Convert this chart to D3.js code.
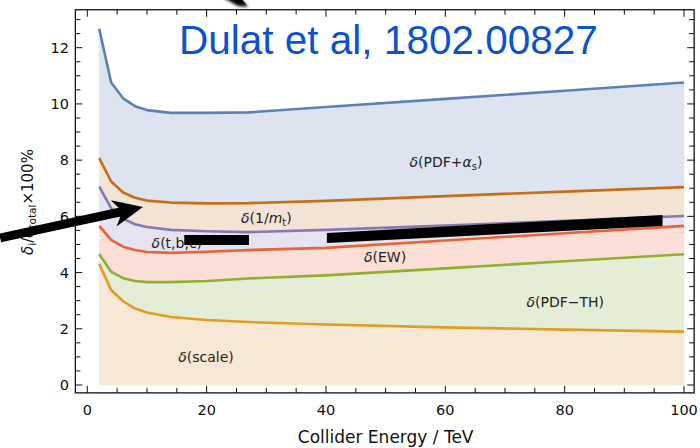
<!DOCTYPE html>
<html>
<head>
<meta charset="utf-8">
<script src="https://cdn.jsdelivr.net/npm/d3@7"></script>
<style>
  html, body { margin: 0; padding: 0; background: #fff; }
  svg { display: block; font-family: "DejaVu Sans", sans-serif; }
</style>
</head>
<body>
<svg id="chart" width="700" height="448"></svg>
<script>
// Collider energies (TeV) at which the uncertainties are evaluated
const energies = [2, 4, 6, 8, 10, 14, 20, 27, 40, 60, 80, 100];

// Cumulative uncertainty boundaries, delta_i / delta_total x 100%
const pdfAlphaS = [12.67, 10.76, 10.20, 9.92, 9.78, 9.68, 9.68, 9.70, 9.89, 10.18, 10.47, 10.76];
const invMt     = [8.07, 7.24, 6.85, 6.66, 6.56, 6.49, 6.46, 6.47, 6.55, 6.72, 6.88, 7.04];
const tbc       = [7.06, 6.29, 5.92, 5.72, 5.62, 5.52, 5.47, 5.44, 5.52, 5.67, 5.84, 6.01];
const ew        = [5.66, 5.16, 4.92, 4.80, 4.73, 4.70, 4.74, 4.80, 4.88, 5.14, 5.40, 5.66];
const pdfTh     = [4.66, 4.03, 3.80, 3.70, 3.66, 3.66, 3.70, 3.79, 3.90, 4.15, 4.40, 4.65];
const scaleUnc  = [4.31, 3.38, 2.98, 2.72, 2.58, 2.42, 2.31, 2.24, 2.15, 2.05, 1.97, 1.90];

// Axis ticks
const xMajorTicks = [0, 20, 40, 60, 80, 100];
const yMajorTicks = [0, 2, 4, 6, 8, 10, 12];

const svg = d3.select("#chart");

const x = d3.scaleLinear().domain([0, 100]).range([87.3, 684]);
const y = d3.scaleLinear().domain([0, 12]).range([385, 47.7]);

// Plot frame extent in data units
const frameX = [-2, 101.7];
const frameY = [-0.28, 13.35];
const fx0 = x(frameX[0]), fx1 = x(frameX[1]);
const fy0 = y(frameY[0]), fy1 = y(frameY[1]);

// Stacked bands: upper boundary, lower boundary, line colour, fill colour
const zeros = energies.map(() => 0);
const bands = [
  { upper: pdfAlphaS, lower: invMt,    line: "#5E81B5", fill: "#dde4ef" },
  { upper: invMt,     lower: tbc,      line: "#C56E1A", fill: "#f3e3d4" },
  { upper: tbc,       lower: ew,       line: "#8778B3", fill: "#e5e3ef" },
  { upper: ew,        lower: pdfTh,    line: "#EB6235", fill: "#fbdfd7" },
  { upper: pdfTh,     lower: scaleUnc, line: "#8FB032", fill: "#e6edd6" },
  { upper: scaleUnc,  lower: zeros,    line: "#E19C24", fill: "#f6e8d5" }
];

const area = d3.area()
  .x(d => x(d.e))
  .y0(d => y(d.lo))
  .y1(d => y(d.hi));

const line = d3.line()
  .x(d => x(d.e))
  .y(d => y(d.v));

const plot = svg.append("g");

bands.forEach(b => {
  plot.append("path")
    .datum(energies.map((e, i) => ({ e, hi: b.upper[i], lo: b.lower[i] })))
    .attr("d", area)
    .attr("fill", b.fill)
    .attr("stroke", b.fill)
    .attr("stroke-width", 0.6);
});

bands.forEach(b => {
  plot.append("path")
    .datum(energies.map((e, i) => ({ e, v: b.upper[i] })))
    .attr("d", line)
    .attr("fill", "none")
    .attr("stroke", b.line)
    .attr("stroke-width", 2.6)
    .attr("stroke-linejoin", "round");
});

// Band labels
const labelColor = "#222";
function bandLabel(cx, cy, parts) {
  const t = plot.append("text")
    .attr("x", x(cx)).attr("y", y(cy))
    .attr("text-anchor", "middle")
    .attr("font-size", 14)
    .attr("fill", labelColor);
  parts.forEach(p => {
    const s = t.append("tspan").text(p.t);
    if (p.i) s.attr("font-style", "italic");
    if (p.sub) s.attr("font-size", 10).attr("baseline-shift", "-25%");
  });
}
bandLabel(60.1, 7.76, [{t: "δ", i: 1}, {t: "(PDF+"}, {t: "α", i: 1}, {t: "s", sub: 1}, {t: ")"}]);
bandLabel(30.0, 5.77, [{t: "δ", i: 1}, {t: "(1/"}, {t: "m", i: 1}, {t: "t", sub: 1}, {t: ")"}]);
bandLabel(15.0, 4.88, [{t: "δ", i: 1}, {t: "(t,b,c)"}]);
bandLabel(49.9, 4.38, [{t: "δ", i: 1}, {t: "(EW)"}]);
bandLabel(80.1, 2.78, [{t: "δ", i: 1}, {t: "(PDF\u2212TH)"}]);
bandLabel(19.9, 0.82, [{t: "δ", i: 1}, {t: "(scale)"}]);

// Black annotation bars over the t,b,c band
const bars = [
  [[16.25, 5.34], [27.1, 5.34], [27.1, 4.98], [16.25, 4.98]],
  [[40.15, 5.41], [96.4, 6.05], [96.4, 5.66], [40.15, 5.05]]
];
bars.forEach(pts => {
  svg.append("polygon")
    .attr("points", pts.map(p => x(p[0]) + "," + y(p[1])).join(" "))
    .attr("fill", "#000");
});

// Frame
const frame = svg.append("g").attr("stroke", "#111").attr("fill", "none");
frame.append("rect")
  .attr("x", fx0).attr("y", fy1)
  .attr("width", fx1 - fx0).attr("height", fy0 - fy1)
  .attr("stroke-width", 1.3);

// Ticks on all four sides, pointing inward
const xMinor = d3.range(0, 100.01, 5);
const yMinor = d3.range(0, 13.01, 0.5);
xMinor.forEach(v => {
  const major = xMajorTicks.includes(v);
  const L = major ? 7 : 5;
  frame.append("line").attr("x1", x(v)).attr("x2", x(v)).attr("y1", fy0).attr("y2", fy0 - L).attr("stroke-width", 1);
  frame.append("line").attr("x1", x(v)).attr("x2", x(v)).attr("y1", fy1).attr("y2", fy1 + L).attr("stroke-width", 1);
});
yMinor.forEach(v => {
  const major = yMajorTicks.includes(v);
  const L = major ? 7 : 5;
  frame.append("line").attr("x1", fx0).attr("x2", fx0 + L).attr("y1", y(v)).attr("y2", y(v)).attr("stroke-width", 1);
  frame.append("line").attr("x1", fx1).attr("x2", fx1 - L).attr("y1", y(v)).attr("y2", y(v)).attr("stroke-width", 1);
});

// Tick labels
xMajorTicks.forEach(v => {
  svg.append("text").attr("x", x(v)).attr("y", 415)
    .attr("text-anchor", "middle").attr("font-size", 14.5).attr("fill", "#111")
    .text(v);
});
yMajorTicks.forEach(v => {
  svg.append("text").attr("x", 69).attr("y", y(v)).attr("dy", "0.36em")
    .attr("text-anchor", "end").attr("font-size", 14.5).attr("fill", "#111")
    .text(v);
});

// Axis titles
svg.append("text").attr("x", x(50)).attr("y", 443)
  .attr("text-anchor", "middle").attr("font-size", 17).attr("fill", "#111")
  .text("Collider Energy / TeV");

const yt = svg.append("text")
  .attr("transform", "translate(33,202) rotate(-90)")
  .attr("text-anchor", "middle").attr("font-size", 15).attr("fill", "#111");
yt.append("tspan").attr("font-style", "italic").text("δ");
yt.append("tspan").attr("font-size", 10.5).attr("baseline-shift", "-25%").text("i");
yt.append("tspan").text("/");
yt.append("tspan").attr("font-style", "italic").text("δ");
yt.append("tspan").attr("font-size", 10.5).attr("baseline-shift", "-25%").text("total");
yt.append("tspan").text("\u00d7100%");

// Title
svg.append("text").attr("x", 179).attr("y", 54)
  .style("font-family", "'Liberation Sans', Arial, sans-serif")
  .attr("font-size", 40.5).attr("fill", "#0b52d0")
  .text("Dulat et al, 1802.00827");

// Arrow pointing at the 1/m_t band
const tail = [x(-14.6), y(5.23)];
const tip = [x(9.33), y(6.33)];
const dx = tip[0] - tail[0], dy = tip[1] - tail[1];
const len = Math.hypot(dx, dy);
const ux = dx / len, uy = dy / len, nx = -uy, ny = ux;
const headL = 30, headW = 13.5, notch = 24, shaftW = 4.4;
const P = (a, b) => [tip[0] - ux * a + nx * b, tip[1] - uy * a + ny * b];
const arrowPts = [
  [tail[0] + nx * shaftW, tail[1] + ny * shaftW],
  P(notch, shaftW), P(headL, headW), tip, P(headL, -headW), P(notch, -shaftW),
  [tail[0] - nx * shaftW, tail[1] - ny * shaftW]
];
svg.append("polygon").attr("points", arrowPts.map(p => p.join(",")).join(" ")).attr("fill", "#000");

// Tip of a second arrow entering from the top edge
const defs = svg.append("defs");
defs.append("filter").attr("id", "soft").append("feGaussianBlur").attr("stdDeviation", 1.5);
svg.append("polygon")
  .attr("points", "220,-4 238,-4 248,7 238,6")
  .attr("fill", "#000").attr("filter", "url(#soft)");
svg.append("polygon")
  .attr("points", "234,-2 241,-2 247,6")
  .attr("fill", "#000");
</script>
</body>
</html>
